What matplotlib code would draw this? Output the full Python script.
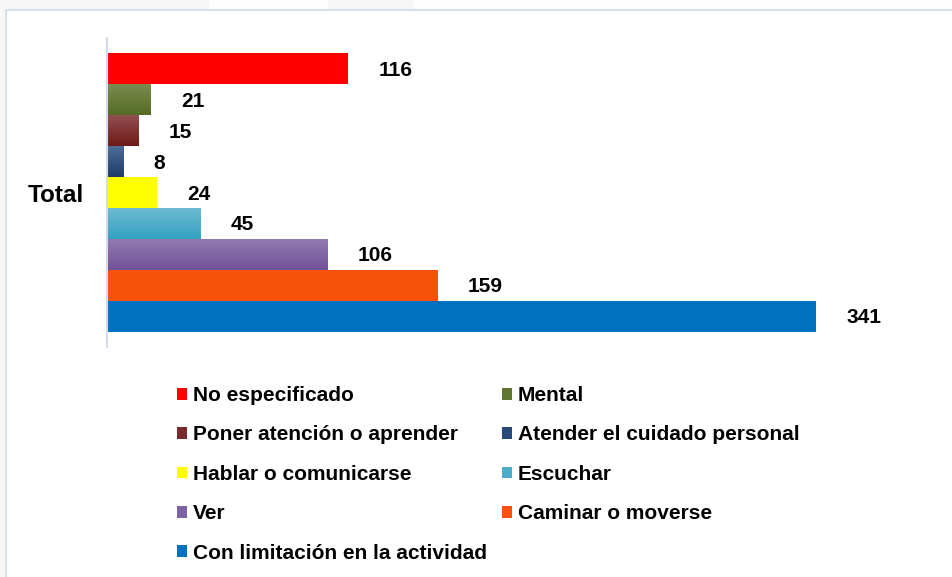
import numpy as np
import matplotlib
matplotlib.use("Agg")
import matplotlib.pyplot as plt
from matplotlib.colors import LinearSegmentedColormap
from matplotlib.patches import Rectangle

plt.rcParams['font.family'] = ['Liberation Sans', 'DejaVu Sans']

categories = ["No especificado", "Mental", "Poner atención o aprender",
              "Atender el cuidado personal", "Hablar o comunicarse", "Escuchar",
              "Ver", "Caminar o moverse", "Con limitación en la actividad"]
values = [116, 21, 15, 8, 24, 45, 106, 159, 341]
group_label = "Total"

# (top colour, bottom colour) per series
colors = [("#FF0000", "#FF0000"), ("#7A8C50", "#566B26"), ("#925050", "#701818"),
          ("#4E6C98", "#1E3C6A"), ("#FFFF00", "#FFFF00"), ("#6CBAD2", "#34A2C2"),
          ("#917AB2", "#735198"), ("#F8510C", "#F8510C"), ("#0070C0", "#0070C0")]
legend_colors = ["#FF0000", "#5F7530", "#7A2A2A", "#274A7A", "#FFFF00",
                 "#4AACC8", "#7F62A4", "#F8510C", "#0070C0"]

W, H = 953, 577
fig = plt.figure(figsize=(W / 100, H / 100), dpi=100)
fig.patch.set_facecolor("#F7F7F7")
# faint tab shapes along the top edge
for x0, x1 in [(209, 328), (414, 953)]:
    fig.patches.append(Rectangle((x0 / W, 1 - 10 / H), (x1 - x0) / W, 10 / H,
                                 transform=fig.transFigure, facecolor="#FDFDFD",
                                 edgecolor="none", zorder=-6))
# inner white frame
fig.patches.append(Rectangle((6 / W, -0.1), 1.1, 1 - 10 / H + 0.1, transform=fig.transFigure,
                             facecolor="white", edgecolor="#D6E1EF", linewidth=1.5, zorder=-5))

ax = fig.add_axes([107 / W, 1 - 347 / H, 800 / W, 309 / H])
ax.set_facecolor("none")
ax.set_zorder(2)

for i, (v, (ctop, cbot)) in enumerate(zip(values, colors)):
    if ctop == cbot:
        ax.barh(i, v, height=1.0, color=ctop, edgecolor="none", zorder=2)
    else:
        cmap = LinearSegmentedColormap.from_list("g%d" % i, [ctop, cbot])
        ax.imshow(np.linspace(0, 1, 64).reshape(-1, 1), extent=(0, v, i + 0.5, i - 0.5),
                  aspect="auto", cmap=cmap, origin="upper", zorder=2, interpolation="bilinear")
    ax.text(v + 14.5, i + 0.05, str(v), ha="left", va="center", fontsize=15,
            fontweight="bold", color="black", zorder=3)

ax.set_xlim(0, 800 / 2.079)
ax.set_ylim(9, -1)
ax.set_xticks([])
ax.set_yticks([4])
ax.set_yticklabels([group_label], fontsize=17.5, fontweight="bold")
ax.tick_params(axis="y", length=0, pad=16.5)
for s in ["top", "right", "bottom"]:
    ax.spines[s].set_visible(False)
ax.spines["left"].set_color("#D3DCE8")
ax.spines["left"].set_linewidth(1.5)

order = [0, 2, 4, 6, 8, 1, 3, 5, 7]
handles = [Rectangle((0, 0), 1, 1, facecolor=legend_colors[k], edgecolor="none") for k in order]
labels = [categories[k] for k in order]
leg = fig.legend(handles, labels, loc="upper left", bbox_to_anchor=(177 / W, 1 - 386 / H),
                 ncol=2, frameon=False, prop={"weight": "bold", "size": 15},
                 handlelength=0.46, handleheight=0.5, handletextpad=0.29,
                 labelspacing=0.98, columnspacing=0.75, borderpad=0, borderaxespad=0)
leg.set_zorder(3)

fig.savefig("out.png", dpi=100, facecolor=fig.get_facecolor())
